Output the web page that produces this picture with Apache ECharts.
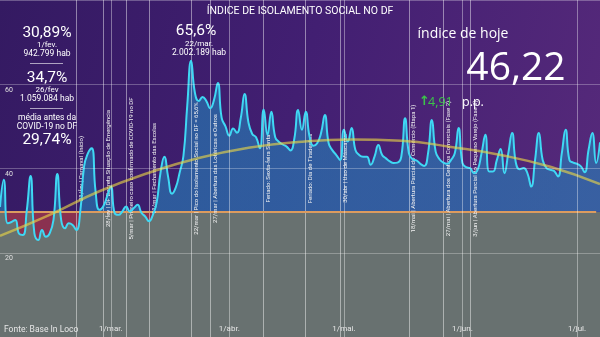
<!DOCTYPE html>
<html><head><meta charset="utf-8">
<script src="https://cdn.jsdelivr.net/npm/echarts@6/dist/echarts.min.js"></script>
<style>html,body{margin:0;padding:0;background:#3a1d68}#c{width:600px;height:337px}</style>
</head><body><div id="c"></div>
<script>
// Índice de isolamento social diário (%), 1/fev a 7/jul de 2020
const isolamento = [
  30.89, 37.3, 27.0, 27.3, 27.8, 24.5, 24.2, 30.0, 38.2, 24.6,
  23.0, 25.4, 23.8, 24.6, 27.8, 38.7, 27.8, 25.8, 27.0, 26.6,
  25.4, 29.8, 40.5, 43.6, 44.8, 34.7, 30.2, 31.0, 33.3, 35.7,
  29.4, 29.0, 29.8, 31.0, 29.8, 30.6, 31.4, 29.5, 28.6, 27.5,
  29.0, 32.0, 39.0, 42.8, 38.0, 34.0, 35.5, 39.0, 43.0, 55.0,
  65.6, 58.0, 56.0, 57.0, 56.0, 54.3, 56.3, 60.3, 52.0, 50.0,
  47.8, 49.5, 48.5, 52.0, 57.7, 51.0, 48.2, 47.4, 44.8, 54.0,
  48.0, 53.5, 47.5, 46.3, 45.7, 45.2, 44.3, 47.0, 53.9, 49.2,
  53.5, 47.6, 45.4, 46.0, 48.4, 52.7, 46.0, 44.3, 43.2, 42.0,
  49.2, 46.4, 49.6, 44.4, 43.2, 42.8, 42.8, 40.9, 42.8, 45.6,
  43.2, 42.4, 41.7, 41.3, 41.4, 42.8, 51.9, 43.6, 42.2, 41.9,
  41.1, 40.6, 43.6, 51.5, 44.0, 42.2, 41.4, 41.1, 42.0, 43.6,
  49.6, 41.3, 40.3, 40.1, 38.9, 39.7, 43.6, 48.0, 39.3, 39.3,
  42.0, 44.6, 38.9, 43.6, 48.4, 41.3, 39.8, 40.1, 38.9, 35.7,
  42.0, 48.4, 42.0, 40.1, 39.7, 39.4, 38.1, 43.6, 49.2, 42.0,
  41.4, 41.1, 40.5, 39.1, 44.4, 48.4, 41.31, 46.22
];
const mediaAntesCovid = 29.74;
// Curva de tendência em dias desde 1/fev
const trendDays   = [0, 13, 26, 39, 52, 65, 78, 92, 105, 118, 131, 144, 157];
const trendValues = [24.0, 29.0, 34.6, 39.0, 42.5, 44.9, 46.3, 46.9, 46.6, 45.1, 43.2, 40.4, 36.3];
const yTickValues = [0, 20, 40, 60, 80];
const monthNames = ['jan','fev','mar','abr','mai','jun','jul'];
const categories = [];
for (let i = 0; i < isolamento.length; i++) {
  const d = new Date(2020, 1, 1 + i);
  categories.push(d.getDate() + '/' + monthNames[d.getMonth()]);
}
const annotationDates = ['21/fev','28/fev','5/mar','11/mar','22/mar','27/mar','10/abr','21/abr','30/abr','18/mai','27/mai','3/jun'];
const annotationTexts = [
  '21/fev | Carnaval (Início)',
  '28/fev | DF Decreta Situação de Emergência',
  '5/mar | Primeiro caso confirmado de COVID-19 no DF',
  '11/mar | Fechamento das Escolas',
  '22/mar | Pico do Isolamento Social no DF = 65,6%',
  '27/mar | Abertura das Lotéricas e Outros',
  'Feriado: Sexta-feira Santa',
  'Feriado: Dia de Tiradentes',
  '30/abr | Uso de Máscaras',
  '18/mai | Abertura Parcial do Comércio (Etapa 1)',
  '27/mai | Abertura dos Centros Comerciais (Fase 2)',
  '3/jun | Abertura Parcial do Pequeno Varejo (Fase 3)'
];

const chart = echarts.init(document.getElementById('c'), null, {renderer: 'canvas'});
const isMonthStart = (i, v) => i > 0 && String(v).indexOf('1/') === 0;
const F = 'Roboto, "Noto Sans", sans-serif';
const F2 = '"Open Sans", "Noto Sans", sans-serif';
function txt(x, y, text, size, color, font, align, weight) {
  return {type: 'text', x: x, y: y, z: 100, silent: true,
    style: {text: text, fill: color || '#fff', fontSize: size, fontFamily: font || F,
      fontWeight: weight || 'normal', align: align || 'center', verticalAlign: 'middle'}};
}
function split(H, t, above, below) {
  return new echarts.graphic.LinearGradient(0, 0, 0, H, [
    {offset: 0, color: above}, {offset: t, color: above},
    {offset: t, color: below}, {offset: 1, color: below}], true);
}
const blue = 'rgba(35,135,190,0.58)';
const grey = '#687170';
const red = '#8a3150';
const clear = 'rgba(0,0,0,0)';

function buildOption(H, t) {
  return {
  backgroundColor: new echarts.graphic.LinearGradient(0, 0, 1, 0.5, [
    {offset: 0, color: '#341a62'}, {offset: 0.5, color: '#421f72'}, {offset: 1, color: '#55297a'}]),
  animation: false,
  grid: {left: 0, right: 0, top: 0, bottom: 0},
  xAxis: {
    type: 'category', data: categories, boundaryGap: false, z: 10,
    axisLine: {show: false}, axisTick: {show: false},
    axisLabel: {inside: true, interval: isMonthStart, formatter: v => v + '.',
      color: '#e6e6e6', fontSize: 8, fontFamily: F, margin: 4},
    splitLine: {show: true, interval: isMonthStart, lineStyle: {color: 'rgba(255,255,255,0.38)', width: 1}}
  },
  yAxis: {
    type: 'value', min: yTickValues[0], max: yTickValues[yTickValues.length - 1], interval: 20, z: 10,
    axisLine: {show: false}, axisTick: {show: false},
    axisLabel: {inside: true, showMinLabel: false, showMaxLabel: false, verticalAlign: 'top',
      color: '#e0e0e0', fontSize: 7, fontFamily: F, margin: 5, padding: [2, 0, 0, 0]},
    splitLine: {lineStyle: {color: 'rgba(255,255,255,0.28)', width: 1}}
  },
  series: [
    { name: 'base', type: 'line', data: isolamento, z: 3, smooth: true, showSymbol: false, silent: true,
      lineStyle: {width: 0, opacity: 0},
      areaStyle: {origin: 'start', color: split(H, t, clear, grey), opacity: 1}
    },
    { name: 'desvio', type: 'line', data: isolamento, z: 4, smooth: true, showSymbol: false, silent: true,
      lineStyle: {width: 0, opacity: 0},
      areaStyle: {origin: mediaAntesCovid, color: split(H, t, blue, red), opacity: 1}
    },
    { name: 'isolamento', type: 'line', data: isolamento, z: 5, smooth: true, showSymbol: false,
      lineStyle: {color: '#3fd8f4', width: 2},
      markLine: {silent: true, symbol: ['none', 'none'], animation: false,
        lineStyle: {color: 'rgba(255,255,255,0.45)', width: 1, type: 'solid'},
        label: {show: true, position: 'insideMiddleBottom', distance: 2, color: '#f2f2f2', fontSize: 6, fontFamily: F},
        data: annotationDates.map((d, i) => ({xAxis: d, label: {formatter: annotationTexts[i]}}))
      }
    },
    { name: 'tendencia', type: 'line', data: trendDays.map((d, i) => [d, trendValues[i]]), z: 6,
      smooth: true, showSymbol: false, silent: true,
      lineStyle: {color: 'rgba(236,214,70,0.62)', width: 2.5},
      markLine: {silent: true, symbol: ['none', 'none'], label: {show: false},
        lineStyle: {color: '#db9b5f', width: 2, type: 'solid'},
        data: [[{coord: [categories[0], mediaAntesCovid]}, {coord: [categories[isolamento.length - 2], mediaAntesCovid]}]]}
    }
  ],
  graphic: [
    txt(300, 11, 'ÍNDICE DE ISOLAMENTO SOCIAL NO DF', 10.5, '#ffffff'),
    txt(47, 33, '30,89%', 15.5), txt(47, 45, '1/fev.', 8), txt(47, 54, '942.799 hab', 8.5),
    {type: 'rect', shape: {x: 30, y: 63, width: 33, height: 0.8}, style: {fill: 'rgba(255,255,255,0.8)'}, z: 100},
    txt(47, 78, '34,7%', 15.5), txt(47, 90, '26/fev', 8), txt(47, 99, '1.059.084 hab', 8.5),
    {type: 'rect', shape: {x: 30, y: 108, width: 33, height: 0.8}, style: {fill: 'rgba(255,255,255,0.8)'}, z: 100},
    txt(47, 118, 'média antes da', 8.5), txt(47, 127, 'COVID-19 no DF', 8.5), txt(47, 140, '29,74%', 15.5),
    txt(196, 31, '65,6%', 15.5), txt(199, 44, '22/mar.', 8), txt(199, 53, '2.002.189 hab', 8.5),
    txt(463, 34, 'índice de hoje', 14, '#ffffff', F2),
    txt(516, 69, '46,22', 39, '#ffffff', F2),
    txt(419, 102, '↑', 13, '#3cc24a', 'DejaVu Sans', 'left', 'bold'),
    txt(428, 102, '4,91', 12.5, '#3cc24a', F2, 'left'),
    txt(462, 102, 'p.p.', 12.5, '#ffffff', F2, 'left'),
    txt(4, 330, 'Fonte: Base In Loco', 8.5, '#e6e6e6', F, 'left')
  ]
  };
}
const H = chart.getHeight();
chart.setOption(buildOption(H, 0.63));
// split the fills exactly at the pre-COVID average line (canvas coordinates)
const avgPx = chart.convertToPixel({yAxisIndex: 0}, mediaAntesCovid);
const t = Math.max(0, Math.min(1, avgPx / H));
chart.setOption(buildOption(H, t), true);
</script></body></html>
